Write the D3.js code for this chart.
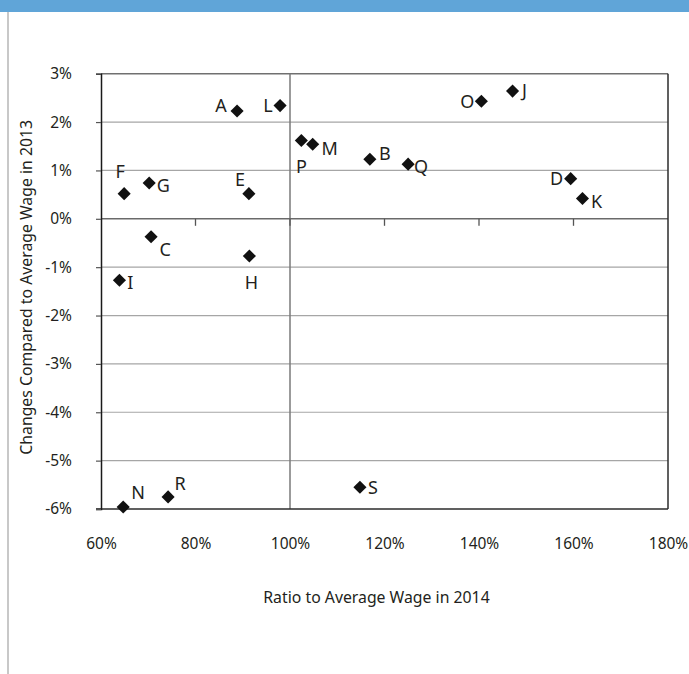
<!DOCTYPE html>
<html>
<head>
<meta charset="utf-8">
<script src="https://cdn.jsdelivr.net/npm/d3@7"></script>
<style>
  html, body { margin: 0; padding: 0; background: #fff; }
  svg { display: block; font-family: "Noto Sans", "Open Sans", sans-serif; }
</style>
</head>
<body>
<svg id="chart" width="689" height="674"></svg>
<script>
// Point labels, wage ratio (x, %) and change vs. previous year (y, %)
const labels     = ["A", "B", "C", "D", "E", "F", "G", "H", "I", "J", "K", "L", "M", "N", "O", "P", "Q", "R", "S"];
const ratio2014  = [88.8, 116.9, 70.6, 159.4, 91.3, 64.9, 70.2, 91.4, 63.9, 147.1, 161.9, 97.9, 104.8, 64.7, 140.5, 102.4, 125.0, 74.2, 114.8];
const change2013 = [2.23, 1.23, -0.37, 0.83, 0.52, 0.52, 0.74, -0.77, -1.27, 2.64, 0.42, 2.34, 1.54, -5.96, 2.43, 1.62, 1.13, -5.75, -5.55];

const xTicks = [60, 80, 100, 120, 140, 160, 180];
const yTicks = [3, 2, 1, 0, -1, -2, -3, -4, -5, -6];
const xTitle = "Ratio to Average Wage in 2014";
const yTitle = "Changes Compared to Average Wage in 2013";

// where each letter sits relative to its marker
const labelOffset = {
  A: [-16, -5], B: [15, -6], C: [14, 13], D: [-14, 0], E: [-9, -14], F: [-4, -22],
  G: [14, 3], H: [2, 27], I: [11, 2], J: [12, 0], K: [14, 3], L: [-12, 0],
  M: [17, 4], N: [15, -14], O: [-14, 0], P: [0, 26], Q: [13, 3], R: [12, -13], S: [13, 0]
};

const svg = d3.select("#chart");
const W = 689, H = 674;
const plotL = 101, plotR = 668, plotT = 73.7, plotB = 509;
const ink = "#231f20";

const x = d3.scaleLinear().domain([60, 180]).range([plotL, plotR]);
const y = d3.scaleLinear().domain([-6, 3]).range([plotB, plotT]);

// header band and page frame
svg.append("rect").attr("x", 0).attr("y", 0).attr("width", W).attr("height", 12).attr("fill", "#60a5d8");
svg.append("rect").attr("x", 7).attr("y", 12).attr("width", 2).attr("height", H - 12).attr("fill", "#c8c8c8");

// horizontal gridlines
svg.append("g").selectAll("line").data(yTicks.filter(v => v !== 0 && v !== -6))
  .join("line")
  .attr("x1", plotL).attr("x2", plotR)
  .attr("y1", d => y(d)).attr("y2", d => y(d))
  .attr("stroke", d => d === 3 ? "#707070" : "#a6a6a6")
  .attr("stroke-width", d => d === 3 ? 1.5 : 1.2);

// reference line at 100%
svg.append("line")
  .attr("x1", x(100)).attr("x2", x(100)).attr("y1", plotT).attr("y2", plotB)
  .attr("stroke", "#7a7a7a").attr("stroke-width", 1.5);

// zero line acting as the x axis, ticks hanging below
svg.append("line")
  .attr("x1", plotL).attr("x2", plotR).attr("y1", y(0)).attr("y2", y(0))
  .attr("stroke", "#6a6a6a").attr("stroke-width", 1.5);
svg.append("g").selectAll("line").data(xTicks.slice(1, -1))
  .join("line")
  .attr("x1", d => x(d)).attr("x2", d => x(d))
  .attr("y1", y(0)).attr("y2", y(0) + 7)
  .attr("stroke", "#555").attr("stroke-width", 1.3);

// frame: bottom and right edges
svg.append("line").attr("x1", plotL - 5).attr("x2", plotR).attr("y1", plotB).attr("y2", plotB)
  .attr("stroke", "#2b2b2b").attr("stroke-width", 1.5);
svg.append("line").attr("x1", plotR).attr("x2", plotR).attr("y1", plotT).attr("y2", plotB)
  .attr("stroke", "#2b2b2b").attr("stroke-width", 1.5);

// y axis with outward ticks
const yAxis = d3.axisLeft(y).tickValues(yTicks).tickSize(5).tickPadding(24)
  .tickFormat(d => d + "%");
const gy = svg.append("g").attr("transform", `translate(${plotL},0)`).call(yAxis);
gy.select(".domain").attr("stroke", "#1a1a1a").attr("stroke-width", 1.5);
gy.selectAll(".tick line").attr("stroke", "#555").attr("stroke-width", 1.2);
gy.selectAll(".tick text").attr("font-size", 15.5).attr("fill", ink)
  .attr("font-family", "'Noto Sans', sans-serif");

// x tick labels along the bottom
const xAxis = d3.axisBottom(x).tickValues(xTicks).tickSize(0).tickPadding(29)
  .tickFormat(d => d + "%");
const gx = svg.append("g").attr("transform", `translate(0,${plotB})`).call(xAxis);
gx.select(".domain").remove();
gx.selectAll(".tick text").attr("font-size", 15.5).attr("fill", ink)
  .attr("font-family", "'Noto Sans', sans-serif");

// axis titles
svg.append("text")
  .attr("x", (plotL + plotR) / 2 - 8).attr("y", 603)
  .attr("text-anchor", "middle").attr("font-size", 15.8).attr("fill", ink)
  .text(xTitle);
svg.append("text")
  .attr("transform", `translate(32,${(plotT + plotB) / 2 - 4}) rotate(-90)`)
  .attr("text-anchor", "middle").attr("font-size", 15.8).attr("fill", ink)
  .text(yTitle);

// points
const points = labels.map((name, i) => ({ name, rx: ratio2014[i], cy: change2013[i] }));
const diamond = d3.symbol().type(d3.symbolSquare).size(86);

svg.append("g").selectAll("path").data(points)
  .join("path")
  .attr("d", diamond)
  .attr("transform", d => `translate(${x(d.rx)},${y(d.cy)}) rotate(45)`)
  .attr("fill", "#111");

svg.append("g").selectAll("text").data(points)
  .join("text")
  .attr("x", d => x(d.rx) + labelOffset[d.name][0])
  .attr("y", d => y(d.cy) + labelOffset[d.name][1])
  .attr("dy", "0.35em")
  .attr("text-anchor", "middle")
  .attr("font-size", 18).attr("fill", ink)
  .text(d => d.name);
</script>
</body>
</html>
